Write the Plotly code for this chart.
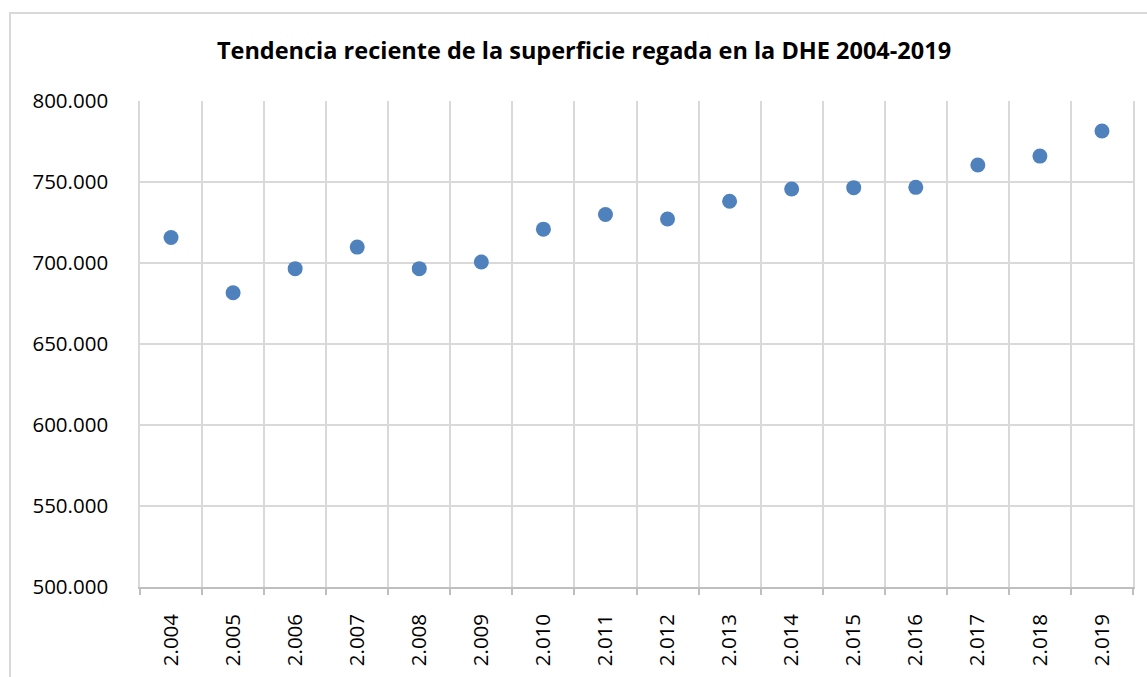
import plotly.graph_objects as go

# Irrigated area (ha) per year
years = ["2.004", "2.005", "2.006", "2.007", "2.008", "2.009", "2.010", "2.011",
         "2.012", "2.013", "2.014", "2.015", "2.016", "2.017", "2.018", "2.019"]
superficie = [715700, 681600, 696500, 709800, 696500, 700600, 720900, 729900,
              727200, 738100, 745700, 746500, 746700, 760500, 766000, 781500]
y_ticks = [500000, 550000, 600000, 650000, 700000, 750000, 800000]
y_labels = ["500.000", "550.000", "600.000", "650.000", "700.000", "750.000", "800.000"]

GRID = "#d9d9d9"
FONT = "Open Sans, Calibri, sans-serif"

fig = go.Figure(
    go.Scatter(
        x=years,
        y=superficie,
        mode="markers",
        marker=dict(size=15, color="#4f81bd"),
        hoverinfo="x+y",
    )
)

fig.update_layout(
    width=1147,
    height=677,
    margin=dict(l=140, r=14, t=101, b=90),
    paper_bgcolor="white",
    plot_bgcolor="white",
    showlegend=False,
    title=dict(
        text="<b>Tendencia reciente de la superficie regada en la DHE 2004-2019</b>",
        xref="container",
        x=584 / 1147,
        xanchor="center",
        y=1 - 51 / 677,
        yanchor="middle",
        font=dict(family=FONT, size=23.5, color="black"),
    ),
    font=dict(family=FONT, size=20.5, color="black"),
    shapes=[
        # outer chart frame
        dict(type="rect", xref="paper", yref="paper",
             x0=(10 - 140) / 993, x1=(1160 - 140) / 993,
             y0=(587 - 700) / 486, y1=(587 - 13) / 486,
             line=dict(color=GRID, width=2), fillcolor="rgba(0,0,0,0)",
             layer="below"),
    ],
)

fig.update_xaxes(
    type="category",
    tickson="boundaries",
    showgrid=True,
    gridcolor=GRID,
    gridwidth=1.5,
    showline=True,
    linecolor="#bfbfbf",
    linewidth=1.5,
    ticks="outside",
    ticklen=6,
    tickcolor="#bfbfbf",
    tickwidth=1.5,
    tickangle=-90,
    ticklabelstandoff=17,
    tickfont=dict(family=FONT, size=20.5, color="black"),
    range=[-0.5, len(years) - 0.5],
)

fig.update_yaxes(
    range=[500000, 800000],
    tickvals=y_ticks,
    ticktext=y_labels,
    showgrid=True,
    gridcolor=GRID,
    gridwidth=1.5,
    showline=True,
    linecolor=GRID,
    linewidth=1.5,
    mirror=True,
    zeroline=False,
    ticks="",
    ticklabelstandoff=26,
    tickfont=dict(family=FONT, size=20.5, color="black"),
)

fig.write_html("out.html")
